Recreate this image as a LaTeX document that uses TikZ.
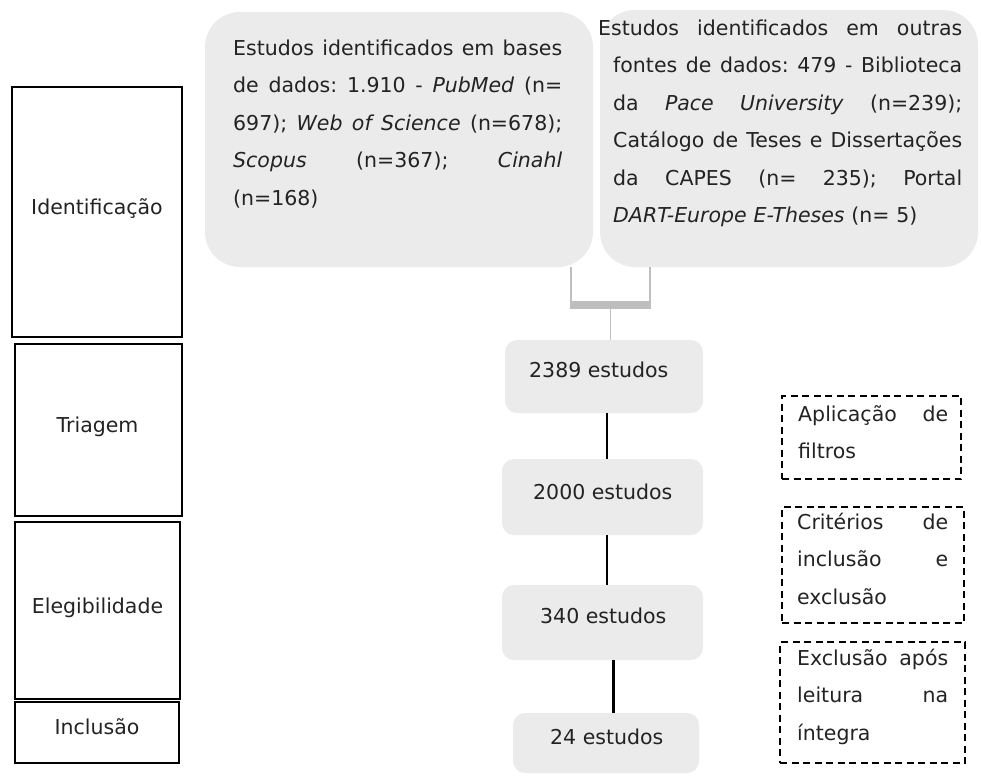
\documentclass[tikz,border=0pt]{standalone}
\usepackage{fontspec}
\setmainfont{DejaVu Sans}
\usetikzlibrary{calc}
\definecolor{boxgray}{RGB}{235,235,235}
\definecolor{linkgray}{RGB}{190,190,190}
\definecolor{txtcol}{RGB}{35,35,35}
\newcommand{\jline}[2]{{\frenchspacing\spaceskip=0pt\xspaceskip=0pt\makebox[#1][s]{#2}}}
\begin{document}
\begin{tikzpicture}[x=1pt,y=-1pt,
  font=\fontsize{20.5}{37.5}\selectfont, text=txtcol,
  bigbox/.style={fill=boxgray, draw=none, rounded corners=35pt, inner sep=0pt},
  midbox/.style={fill=boxgray, draw=none, rounded corners=12pt, inner sep=0pt},
  phasebox/.style={draw=black, line width=1.8pt, fill=none, inner sep=0pt},
  notebox/.style={draw=black, line width=1.8pt, dash pattern=on 7pt off 4.5pt, inner sep=0pt},
  para/.style={inner sep=0pt, anchor=base west, align=left},
  lbl/.style={inner sep=0pt, anchor=base},
  conn/.style={draw=black, line width=2pt},
  joinline/.style={draw=linkgray, line width=1.5pt}
]
\useasboundingbox (0,0) rectangle (981,779);

% phase column
\node[phasebox, minimum width=170, minimum height=250] (idbox) at (97,212) {};
\node[lbl] (idlbl) at (97,214) {Identificação};
\node[phasebox, minimum width=167, minimum height=172] (tribox) at (98.5,430) {};
\node[lbl] (trilbl) at (97.5,432) {Triagem};
\node[phasebox, minimum width=165, minimum height=177] (elbox) at (97.5,610.5) {};
\node[lbl] (ellbl) at (97.5,613) {Elegibilidade};
\node[phasebox, minimum width=164, minimum height=61] (inbox) at (97,732.5) {};
\node[lbl] (inlbl) at (97,734) {Inclusão};

% source boxes
\node[bigbox, minimum width=388, minimum height=255] (srcA) at (399,139.5) {};
\node[bigbox, minimum width=378, minimum height=257] (srcB) at (789,138.5) {};
\node[para, text width=329pt] (txA) at (233,55) {%
\jline{329pt}{Estudos identificados em bases}\\
\jline{329pt}{de dados: 1.910 - \textit{PubMed} (n=}\\
\jline{329pt}{697); \textit{Web of Science} (n=678);}\\
\jline{329pt}{\textit{Scopus} (n=367); \textit{Cinahl}}\\
(n=168)};
\node[para, text width=349pt] (txB) at (613,35) {%
\hspace*{-15pt}\jline{364pt}{Estudos identificados em outras}\\
\jline{349pt}{fontes de dados: 479 - Biblioteca}\\
\jline{349pt}{da \textit{Pace University} (n=239);}\\
\jline{349pt}{Catálogo de Teses e Dissertações}\\
\jline{349pt}{da CAPES (n= 235); Portal}\\
\textit{DART-Europe E-Theses} (n= 5)};

% flow boxes
\node[midbox, minimum width=198, minimum height=73] (n1) at (604,376.5) {};
\node[para] (n1t) at (529,377) {2389 estudos};
\node[midbox, minimum width=201, minimum height=76] (n2) at (602.5,497) {};
\node[para] (n2t) at (533,499) {2000 estudos};
\node[midbox, minimum width=201, minimum height=75] (n3) at (602.5,622.5) {};
\node[para] (n3t) at (540,623) {340 estudos};
\node[midbox, minimum width=186, minimum height=60] (n4) at (606,743) {};
\node[para] (n4t) at (550,744) {24 estudos};

% joining bracket
\coordinate (ja) at (571,305);
\coordinate (jb) at (650,305);
\coordinate (jm) at (610,309);
\draw[joinline] (ja |- srcA.south) -- ([yshift=-4pt]ja);
\draw[joinline] (jb |- srcB.south) -- ([yshift=-4pt]jb);
\draw[draw=linkgray, line width=8pt] ([xshift=-0.75pt]ja) -- ([xshift=0.75pt]jb);
\draw[joinline, line width=1pt] (jm) -- (jm |- n1.north);

% flow connectors
\draw[conn] ([xshift=3pt]n1.south) -- ([xshift=3pt]n1.south |- n2.north);
\draw[conn] ([xshift=4.5pt]n2.south) -- ([xshift=4.5pt]n2.south |- n3.north);
\draw[conn, line width=3pt] ([xshift=10.5pt]n3.south) -- ([xshift=10.5pt]n3.south |- n4.north);

% note boxes
\node[notebox, minimum width=179, minimum height=83] (nA) at (871.5,437.5) {};
\node[para, text width=150pt] (nAt) at (798,421) {%
\jline{150pt}{Aplicação de}\\
filtros};
\node[notebox, minimum width=182, minimum height=116] (nB) at (873,565) {};
\node[para, text width=151pt] (nBt) at (797,529) {%
\jline{151pt}{Critérios de}\\
\jline{151pt}{inclusão e}\\
exclusão};
\node[notebox, minimum width=185, minimum height=121] (nC) at (872.5,702.5) {};
\node[para, text width=151pt] (nCt) at (797,665) {%
\jline{151pt}{Exclusão após}\\
\jline{151pt}{leitura na}\\
íntegra};
\end{tikzpicture}
\end{document}
